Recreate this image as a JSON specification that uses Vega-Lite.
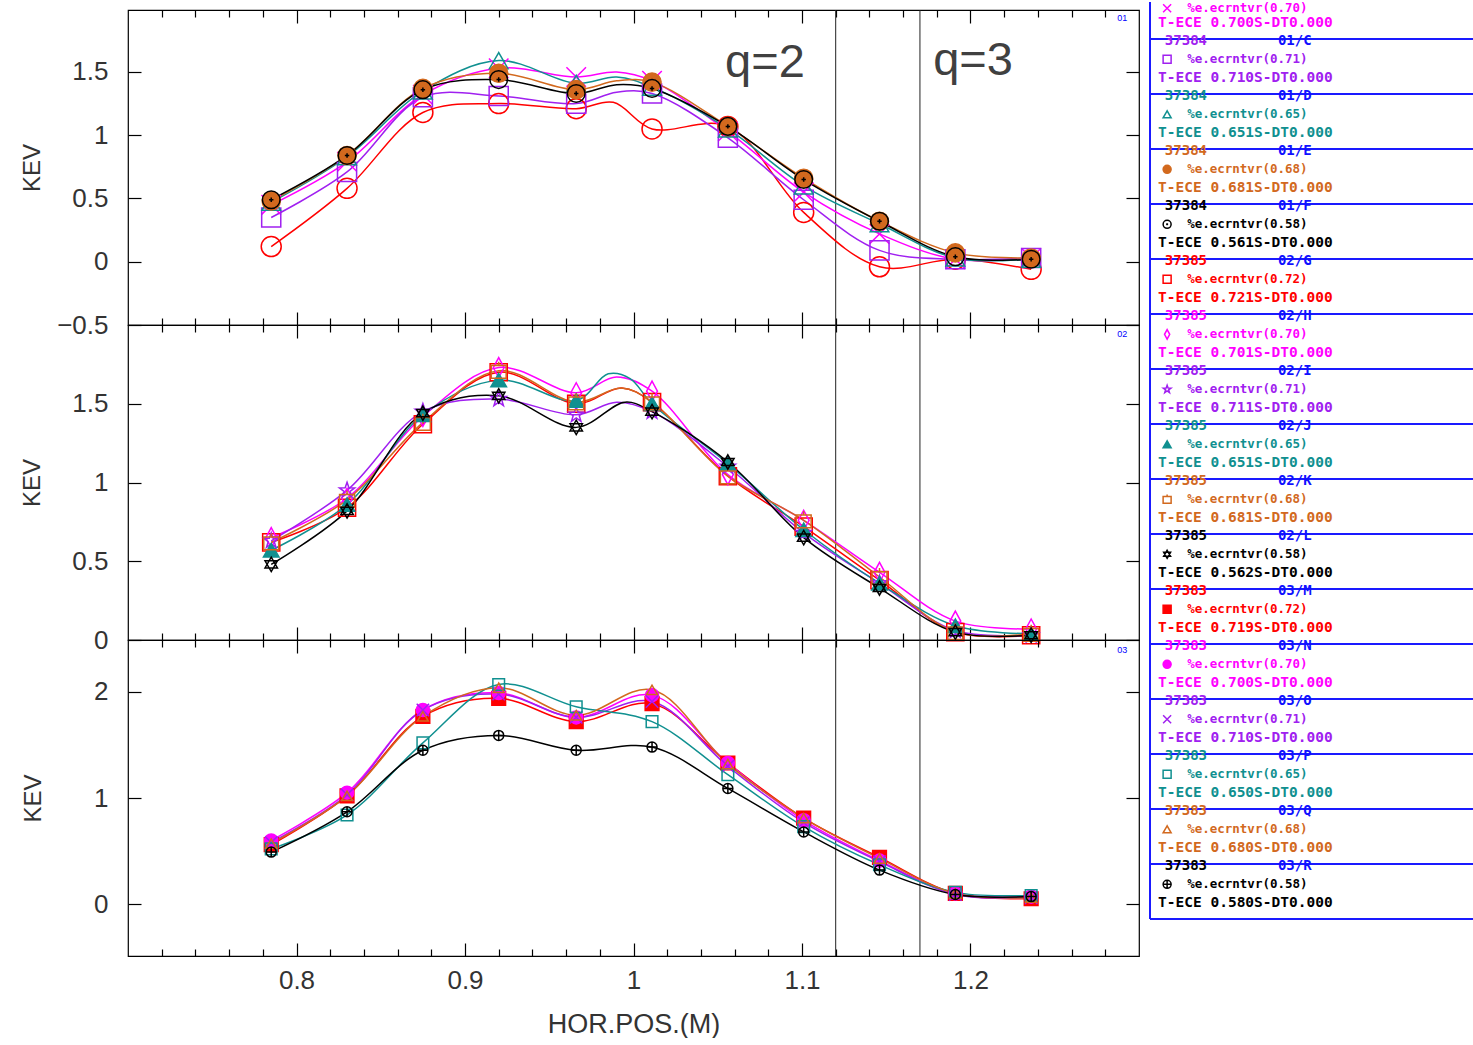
{
"$schema": "https://vega.github.io/schema/vega-lite/v6.json",
"background": "white",
"padding": {"left": 20, "top": 0, "right": 0, "bottom": 0},
"bounds": "flush",
"spacing": 0,
"config": {
  "font": "Liberation Sans",
  "view": {"stroke": "#000000", "strokeWidth": 1.2},
  "legend": {"disable": true},
  "axis": {"domain": false, "grid": false, "tickColor": "#000000", "tickWidth": 1.2, "labelFontSize": 26, "labelColor": "#333333", "titleFontSize": 24, "titleFontWeight": "normal", "titleColor": "#333333", "labelFlush": false, "labelOverlap": false, "format": "~g"}
},
"datasets": {
"pts": [
{"p":1,"s":"01/A","x":0.785,"y":0.12},{"p":1,"s":"01/A","x":0.83,"y":0.58},{"p":1,"s":"01/A","x":0.875,"y":1.18},{"p":1,"s":"01/A","x":0.92,"y":1.25},{"p":1,"s":"01/A","x":0.966,"y":1.21},{"p":1,"s":"01/A","x":0.988,"y":1.26,"l":1},{"p":1,"s":"01/A","x":1.011,"y":1.05},{"p":1,"s":"01/A","x":1.056,"y":1.07},{"p":1,"s":"01/A","x":1.101,"y":0.39},{"p":1,"s":"01/A","x":1.146,"y":-0.04},{"p":1,"s":"01/A","x":1.191,"y":0.02},{"p":1,"s":"01/A","x":1.236,"y":-0.06},
{"p":1,"s":"01/B","x":0.785,"y":0.45},{"p":1,"s":"01/B","x":0.83,"y":0.79},{"p":1,"s":"01/B","x":0.875,"y":1.32},{"p":1,"s":"01/B","x":0.92,"y":1.53},{"p":1,"s":"01/B","x":0.966,"y":1.46},{"p":1,"s":"01/B","x":0.99,"y":1.50,"l":1},{"p":1,"s":"01/B","x":1.011,"y":1.43},{"p":1,"s":"01/B","x":1.056,"y":1.03},{"p":1,"s":"01/B","x":1.101,"y":0.55},{"p":1,"s":"01/B","x":1.146,"y":0.22},{"p":1,"s":"01/B","x":1.191,"y":0.02},{"p":1,"s":"01/B","x":1.236,"y":0.03},
{"p":1,"s":"01/C","x":0.785,"y":0.35},{"p":1,"s":"01/C","x":0.83,"y":0.71},{"p":1,"s":"01/C","x":0.875,"y":1.30},{"p":1,"s":"01/C","x":0.92,"y":1.31},{"p":1,"s":"01/C","x":0.966,"y":1.25},{"p":1,"s":"01/C","x":0.99,"y":1.34,"l":1},{"p":1,"s":"01/C","x":1.011,"y":1.33},{"p":1,"s":"01/C","x":1.056,"y":0.98},{"p":1,"s":"01/C","x":1.101,"y":0.49},{"p":1,"s":"01/C","x":1.146,"y":0.09},{"p":1,"s":"01/C","x":1.191,"y":0.02},{"p":1,"s":"01/C","x":1.236,"y":0.03},
{"p":1,"s":"01/D","x":0.785,"y":0.47},{"p":1,"s":"01/D","x":0.83,"y":0.83},{"p":1,"s":"01/D","x":0.875,"y":1.35},{"p":1,"s":"01/D","x":0.92,"y":1.59},{"p":1,"s":"01/D","x":0.966,"y":1.41},{"p":1,"s":"01/D","x":0.99,"y":1.46,"l":1},{"p":1,"s":"01/D","x":1.011,"y":1.38},{"p":1,"s":"01/D","x":1.056,"y":1.05},{"p":1,"s":"01/D","x":1.101,"y":0.60},{"p":1,"s":"01/D","x":1.146,"y":0.30},{"p":1,"s":"01/D","x":1.191,"y":0.03},{"p":1,"s":"01/D","x":1.236,"y":0.02},
{"p":1,"s":"01/E","x":0.785,"y":0.48},{"p":1,"s":"01/E","x":0.83,"y":0.84},{"p":1,"s":"01/E","x":0.875,"y":1.37},{"p":1,"s":"01/E","x":0.92,"y":1.49},{"p":1,"s":"01/E","x":0.966,"y":1.36},{"p":1,"s":"01/E","x":0.99,"y":1.43,"l":1},{"p":1,"s":"01/E","x":1.011,"y":1.42},{"p":1,"s":"01/E","x":1.056,"y":1.07},{"p":1,"s":"01/E","x":1.101,"y":0.66},{"p":1,"s":"01/E","x":1.146,"y":0.32},{"p":1,"s":"01/E","x":1.191,"y":0.07},{"p":1,"s":"01/E","x":1.236,"y":0.03},
{"p":1,"s":"01/F","x":0.785,"y":0.49},{"p":1,"s":"01/F","x":0.83,"y":0.84},{"p":1,"s":"01/F","x":0.875,"y":1.36},{"p":1,"s":"01/F","x":0.92,"y":1.44},{"p":1,"s":"01/F","x":0.966,"y":1.33},{"p":1,"s":"01/F","x":0.99,"y":1.40,"l":1},{"p":1,"s":"01/F","x":1.011,"y":1.37},{"p":1,"s":"01/F","x":1.056,"y":1.07},{"p":1,"s":"01/F","x":1.101,"y":0.65},{"p":1,"s":"01/F","x":1.146,"y":0.32},{"p":1,"s":"01/F","x":1.191,"y":0.04},{"p":1,"s":"01/F","x":1.236,"y":0.02},
{"p":2,"s":"02/G","x":0.785,"y":0.62},{"p":2,"s":"02/G","x":0.83,"y":0.84},{"p":2,"s":"02/G","x":0.875,"y":1.37},{"p":2,"s":"02/G","x":0.92,"y":1.70},{"p":2,"s":"02/G","x":0.966,"y":1.50},{"p":2,"s":"02/G","x":0.993,"y":1.60,"l":1},{"p":2,"s":"02/G","x":1.011,"y":1.51},{"p":2,"s":"02/G","x":1.056,"y":1.04},{"p":2,"s":"02/G","x":1.101,"y":0.72},{"p":2,"s":"02/G","x":1.146,"y":0.38},{"p":2,"s":"02/G","x":1.191,"y":0.05},{"p":2,"s":"02/G","x":1.236,"y":0.03},
{"p":2,"s":"02/H","x":0.785,"y":0.65},{"p":2,"s":"02/H","x":0.83,"y":0.90},{"p":2,"s":"02/H","x":0.875,"y":1.42},{"p":2,"s":"02/H","x":0.92,"y":1.73},{"p":2,"s":"02/H","x":0.966,"y":1.57},{"p":2,"s":"02/H","x":0.99,"y":1.67,"l":1},{"p":2,"s":"02/H","x":1.011,"y":1.58},{"p":2,"s":"02/H","x":1.056,"y":1.05},{"p":2,"s":"02/H","x":1.101,"y":0.76},{"p":2,"s":"02/H","x":1.146,"y":0.43},{"p":2,"s":"02/H","x":1.191,"y":0.12},{"p":2,"s":"02/H","x":1.236,"y":0.07},
{"p":2,"s":"02/I","x":0.785,"y":0.63},{"p":2,"s":"02/I","x":0.83,"y":0.95},{"p":2,"s":"02/I","x":0.875,"y":1.45},{"p":2,"s":"02/I","x":0.92,"y":1.53},{"p":2,"s":"02/I","x":0.966,"y":1.43},{"p":2,"s":"02/I","x":0.99,"y":1.51,"l":1},{"p":2,"s":"02/I","x":1.011,"y":1.45},{"p":2,"s":"02/I","x":1.056,"y":1.10},{"p":2,"s":"02/I","x":1.101,"y":0.68},{"p":2,"s":"02/I","x":1.146,"y":0.36},{"p":2,"s":"02/I","x":1.191,"y":0.06},{"p":2,"s":"02/I","x":1.236,"y":0.03},
{"p":2,"s":"02/J","x":0.785,"y":0.57},{"p":2,"s":"02/J","x":0.83,"y":0.86},{"p":2,"s":"02/J","x":0.875,"y":1.43},{"p":2,"s":"02/J","x":0.92,"y":1.65},{"p":2,"s":"02/J","x":0.966,"y":1.52},{"p":2,"s":"02/J","x":0.985,"y":1.69,"l":1},{"p":2,"s":"02/J","x":0.998,"y":1.66,"l":1},{"p":2,"s":"02/J","x":1.011,"y":1.50},{"p":2,"s":"02/J","x":1.056,"y":1.12},{"p":2,"s":"02/J","x":1.101,"y":0.70},{"p":2,"s":"02/J","x":1.146,"y":0.36},{"p":2,"s":"02/J","x":1.191,"y":0.09},{"p":2,"s":"02/J","x":1.236,"y":0.04},
{"p":2,"s":"02/K","x":0.785,"y":0.62},{"p":2,"s":"02/K","x":0.83,"y":0.89},{"p":2,"s":"02/K","x":0.875,"y":1.38},{"p":2,"s":"02/K","x":0.92,"y":1.71},{"p":2,"s":"02/K","x":0.966,"y":1.51},{"p":2,"s":"02/K","x":0.993,"y":1.60,"l":1},{"p":2,"s":"02/K","x":1.011,"y":1.51},{"p":2,"s":"02/K","x":1.056,"y":1.04},{"p":2,"s":"02/K","x":1.101,"y":0.76},{"p":2,"s":"02/K","x":1.146,"y":0.40},{"p":2,"s":"02/K","x":1.191,"y":0.05},{"p":2,"s":"02/K","x":1.236,"y":0.04},
{"p":2,"s":"02/L","x":0.785,"y":0.48},{"p":2,"s":"02/L","x":0.83,"y":0.82},{"p":2,"s":"02/L","x":0.875,"y":1.44},{"p":2,"s":"02/L","x":0.92,"y":1.55},{"p":2,"s":"02/L","x":0.966,"y":1.35},{"p":2,"s":"02/L","x":0.995,"y":1.51,"l":1},{"p":2,"s":"02/L","x":1.011,"y":1.45},{"p":2,"s":"02/L","x":1.056,"y":1.13},{"p":2,"s":"02/L","x":1.101,"y":0.65},{"p":2,"s":"02/L","x":1.146,"y":0.33},{"p":2,"s":"02/L","x":1.191,"y":0.05},{"p":2,"s":"02/L","x":1.236,"y":0.03},
{"p":3,"s":"03/M","x":0.785,"y":0.56},{"p":3,"s":"03/M","x":0.83,"y":1.02},{"p":3,"s":"03/M","x":0.875,"y":1.77},{"p":3,"s":"03/M","x":0.92,"y":1.94},{"p":3,"s":"03/M","x":0.966,"y":1.72},{"p":3,"s":"03/M","x":1.011,"y":1.89},{"p":3,"s":"03/M","x":1.056,"y":1.33},{"p":3,"s":"03/M","x":1.101,"y":0.81},{"p":3,"s":"03/M","x":1.146,"y":0.44},{"p":3,"s":"03/M","x":1.191,"y":0.10},{"p":3,"s":"03/M","x":1.236,"y":0.05},
{"p":3,"s":"03/N","x":0.785,"y":0.60},{"p":3,"s":"03/N","x":0.83,"y":1.05},{"p":3,"s":"03/N","x":0.875,"y":1.83},{"p":3,"s":"03/N","x":0.92,"y":1.99},{"p":3,"s":"03/N","x":0.966,"y":1.76},{"p":3,"s":"03/N","x":1.011,"y":1.97},{"p":3,"s":"03/N","x":1.056,"y":1.33},{"p":3,"s":"03/N","x":1.101,"y":0.79},{"p":3,"s":"03/N","x":1.146,"y":0.41},{"p":3,"s":"03/N","x":1.191,"y":0.10},{"p":3,"s":"03/N","x":1.236,"y":0.07},
{"p":3,"s":"03/O","x":0.785,"y":0.58},{"p":3,"s":"03/O","x":0.83,"y":1.03},{"p":3,"s":"03/O","x":0.875,"y":1.83},{"p":3,"s":"03/O","x":0.92,"y":1.98},{"p":3,"s":"03/O","x":0.966,"y":1.76},{"p":3,"s":"03/O","x":1.011,"y":1.91},{"p":3,"s":"03/O","x":1.056,"y":1.30},{"p":3,"s":"03/O","x":1.101,"y":0.77},{"p":3,"s":"03/O","x":1.146,"y":0.40},{"p":3,"s":"03/O","x":1.191,"y":0.09},{"p":3,"s":"03/O","x":1.236,"y":0.06},
{"p":3,"s":"03/P","x":0.785,"y":0.52},{"p":3,"s":"03/P","x":0.83,"y":0.84},{"p":3,"s":"03/P","x":0.875,"y":1.52},{"p":3,"s":"03/P","x":0.92,"y":2.07},{"p":3,"s":"03/P","x":0.966,"y":1.86},{"p":3,"s":"03/P","x":1.011,"y":1.72},{"p":3,"s":"03/P","x":1.056,"y":1.22},{"p":3,"s":"03/P","x":1.101,"y":0.73},{"p":3,"s":"03/P","x":1.146,"y":0.37},{"p":3,"s":"03/P","x":1.191,"y":0.11},{"p":3,"s":"03/P","x":1.236,"y":0.08},
{"p":3,"s":"03/Q","x":0.785,"y":0.57},{"p":3,"s":"03/Q","x":0.83,"y":1.02},{"p":3,"s":"03/Q","x":0.875,"y":1.77},{"p":3,"s":"03/Q","x":0.92,"y":2.04},{"p":3,"s":"03/Q","x":0.966,"y":1.78},{"p":3,"s":"03/Q","x":1.011,"y":2.02},{"p":3,"s":"03/Q","x":1.056,"y":1.32},{"p":3,"s":"03/Q","x":1.101,"y":0.81},{"p":3,"s":"03/Q","x":1.146,"y":0.43},{"p":3,"s":"03/Q","x":1.191,"y":0.10},{"p":3,"s":"03/Q","x":1.236,"y":0.06},
{"p":3,"s":"03/R","x":0.785,"y":0.49},{"p":3,"s":"03/R","x":0.83,"y":0.87},{"p":3,"s":"03/R","x":0.875,"y":1.45},{"p":3,"s":"03/R","x":0.92,"y":1.59},{"p":3,"s":"03/R","x":0.966,"y":1.45},{"p":3,"s":"03/R","x":1.011,"y":1.48},{"p":3,"s":"03/R","x":1.056,"y":1.09},{"p":3,"s":"03/R","x":1.101,"y":0.68},{"p":3,"s":"03/R","x":1.146,"y":0.32},{"p":3,"s":"03/R","x":1.191,"y":0.09},{"p":3,"s":"03/R","x":1.236,"y":0.07}
],
"leg": [
{"s":"01/B","k":1,"r0":3,"r1":4.21,"r2":5,"shot":"37384","tag":"01/B","m":"%e.ecrntvr(0.70)","t":"T-ECE 0.700S-DT0.000"},
{"s":"01/C","k":2,"r0":6,"r1":7,"r2":8,"shot":"37384","tag":"01/C","m":"%e.ecrntvr(0.71)","t":"T-ECE 0.710S-DT0.000"},
{"s":"01/D","k":3,"r0":9,"r1":10,"r2":11,"shot":"37384","tag":"01/D","m":"%e.ecrntvr(0.65)","t":"T-ECE 0.651S-DT0.000"},
{"s":"01/E","k":4,"r0":12,"r1":13,"r2":14,"shot":"37384","tag":"01/E","m":"%e.ecrntvr(0.68)","t":"T-ECE 0.681S-DT0.000"},
{"s":"01/F","k":5,"r0":15,"r1":16,"r2":17,"shot":"37384","tag":"01/F","m":"%e.ecrntvr(0.58)","t":"T-ECE 0.561S-DT0.000"},
{"s":"02/G","k":6,"r0":18,"r1":19,"r2":20,"shot":"37385","tag":"02/G","m":"%e.ecrntvr(0.72)","t":"T-ECE 0.721S-DT0.000"},
{"s":"02/H","k":7,"r0":21,"r1":22,"r2":23,"shot":"37385","tag":"02/H","m":"%e.ecrntvr(0.70)","t":"T-ECE 0.701S-DT0.000"},
{"s":"02/I","k":8,"r0":24,"r1":25,"r2":26,"shot":"37385","tag":"02/I","m":"%e.ecrntvr(0.71)","t":"T-ECE 0.711S-DT0.000"},
{"s":"02/J","k":9,"r0":27,"r1":28,"r2":29,"shot":"37385","tag":"02/J","m":"%e.ecrntvr(0.65)","t":"T-ECE 0.651S-DT0.000"},
{"s":"02/K","k":10,"r0":30,"r1":31,"r2":32,"shot":"37385","tag":"02/K","m":"%e.ecrntvr(0.68)","t":"T-ECE 0.681S-DT0.000"},
{"s":"02/L","k":11,"r0":33,"r1":34,"r2":35,"shot":"37385","tag":"02/L","m":"%e.ecrntvr(0.58)","t":"T-ECE 0.562S-DT0.000"},
{"s":"03/M","k":12,"r0":36,"r1":37,"r2":38,"shot":"37383","tag":"03/M","m":"%e.ecrntvr(0.72)","t":"T-ECE 0.719S-DT0.000"},
{"s":"03/N","k":13,"r0":39,"r1":40,"r2":41,"shot":"37383","tag":"03/N","m":"%e.ecrntvr(0.70)","t":"T-ECE 0.700S-DT0.000"},
{"s":"03/O","k":14,"r0":42,"r1":43,"r2":44,"shot":"37383","tag":"03/O","m":"%e.ecrntvr(0.71)","t":"T-ECE 0.710S-DT0.000"},
{"s":"03/P","k":15,"r0":45,"r1":46,"r2":47,"shot":"37383","tag":"03/P","m":"%e.ecrntvr(0.65)","t":"T-ECE 0.650S-DT0.000"},
{"s":"03/Q","k":16,"r0":48,"r1":49,"r2":50,"shot":"37383","tag":"03/Q","m":"%e.ecrntvr(0.68)","t":"T-ECE 0.680S-DT0.000"},
{"s":"03/R","k":17,"r0":51,"r1":52,"r2":53,"shot":"37383","tag":"03/R","m":"%e.ecrntvr(0.58)","t":"T-ECE 0.580S-DT0.000"}
],
"hl": [{"r":5.89},{"r":8.89},{"r":11.89},{"r":14.89},{"r":17.89},{"r":20.89},{"r":23.89},{"r":26.89},{"r":29.89},{"r":32.89},{"r":35.89},{"r":38.89},{"r":41.89},{"r":44.89},{"r":47.89},{"r":50.89},{"r":53.89}]
},
"vconcat": [
{
"width": 1011, "height": 315,
"resolve": {"scale": {"x": "independent", "y": "independent"}, "axis": {"x": "independent", "y": "independent"}},
"layer": [
 {"data": {"values": [{"q": 1.12}, {"q": 1.17}]}, "mark": {"type": "rule", "color": "#222222", "strokeWidth": 1},
  "encoding": {"x": {"field": "q", "type": "quantitative", "scale": {"domain": [0.7, 1.3], "nice": false, "zero": false}, "axis": {"orient": "bottom", "values": [0.72,0.74,0.76,0.78,0.82,0.84,0.86,0.88,0.92,0.94,0.96,0.98,1.02,1.04,1.06,1.08,1.12,1.14,1.16,1.18,1.22,1.24,1.26,1.28], "tickSize": -7, "labels": false, "title": null}}}},
 {"data": {"name": "pts"}, "transform": [{"filter": "datum.p == 1"}], "mark": {"type": "line", "interpolate": "catmull-rom", "strokeWidth": 1.5},
  "encoding": {
   "x": {"field": "x", "type": "quantitative", "scale": {"domain": [0.7, 1.3], "nice": false, "zero": false}, "axis": {"orient": "bottom", "values": [0.8, 0.9, 1, 1.1, 1.2], "tickSize": -13, "labels": false, "title": null}},
   "y": {"field": "y", "type": "quantitative", "scale": {"domain": [-0.5, 1.99], "nice": false, "zero": false}, "axis": {"orient": "left", "values": [-0.5, 0, 0.5, 1, 1.5], "tickSize": -13, "labelPadding": 33, "title": "KEV", "titlePadding": 12}},
   "stroke": {"field": "s", "type": "nominal", "scale": {"domain": ["01/A","01/B","01/C","01/D","01/E","01/F","02/G","02/H","02/I","02/J","02/K","02/L","03/M","03/N","03/O","03/P","03/Q","03/R"], "range": ["#ff0000","#ff00ff","#a020f0","#109090","#d2691e","#000000","#ff0000","#ff00ff","#a020f0","#109090","#d2691e","#000000","#ff0000","#ff00ff","#a020f0","#109090","#d2691e","#000000"]}}
  }},
 {"data": {"name": "pts"}, "transform": [{"filter": "datum.p == 1 && !datum.l"}], "mark": {"type": "point", "filled": true, "opacity": 1, "strokeWidth": 1.5},
  "encoding": {
   "x": {"field": "x", "type": "quantitative", "scale": {"domain": [0.7, 1.3], "nice": false, "zero": false}, "axis": {"orient": "top", "values": [0.8, 0.9, 1, 1.1, 1.2], "tickSize": -13, "labels": false, "title": null}},
   "y": {"field": "y", "type": "quantitative", "scale": {"domain": [-0.5, 1.99], "nice": false, "zero": false}, "axis": {"orient": "right", "values": [-0.5, 0, 0.5, 1, 1.5], "tickSize": -13, "labels": false, "title": null}},
   "shape": {"field": "s", "type": "nominal", "scale": {"domain": ["01/A","01/B","01/C","01/D","01/E","01/F","02/G","02/H","02/I","02/J","02/K","02/L","03/M","03/N","03/O","03/P","03/Q","03/R"], "range": ["circle","M-1,-1L1,1M-1,1L1,-1","square","triangle-up","M-1,0A1,1,0,1,0,1,0A1,1,0,1,0,-1,0ZM-1,0L1,0M0,-1L0,1","M-1,0A1,1,0,1,0,1,0A1,1,0,1,0,-1,0ZM-0.25,0L0.25,0M0,-0.25L0,0.25","square","M0,-1.2L0.65,0L0,1.2L-0.65,0Z","M0,-1L0.235,-0.324L0.951,-0.309L0.38,0.124L0.588,0.809L0,0.4L-0.588,0.809L-0.38,0.124L-0.951,-0.309L-0.235,-0.324Z","triangle-up","M-1,-0.7L1,-0.7L1,1L-1,1ZM0,-0.7L0,-1.2","M0,-1L0.866,0.5L-0.866,0.5ZM0,1L0.866,-0.5L-0.866,-0.5Z","square","circle","M-1,-1L1,1M-1,1L1,-1","square","triangle-up","M-1,0A1,1,0,1,0,1,0A1,1,0,1,0,-1,0ZM-1,0L1,0M0,-1L0,1"]}},
   "fill": {"field": "s", "type": "nominal", "scale": {"domain": ["01/A","01/B","01/C","01/D","01/E","01/F","02/G","02/H","02/I","02/J","02/K","02/L","03/M","03/N","03/O","03/P","03/Q","03/R"], "range": ["transparent","transparent","transparent","transparent","#d2691e","transparent","transparent","transparent","transparent","#109090","transparent","transparent","#ff0000","#ff00ff","transparent","transparent","transparent","transparent"]}},
   "stroke": {"field": "s", "type": "nominal", "scale": {"domain": ["01/A","01/B","01/C","01/D","01/E","01/F","02/G","02/H","02/I","02/J","02/K","02/L","03/M","03/N","03/O","03/P","03/Q","03/R"], "range": ["#ff0000","#ff00ff","#a020f0","#109090","#d2691e","#000000","#ff0000","#ff00ff","#a020f0","#109090","#d2691e","#000000","#ff0000","#ff00ff","#a020f0","#109090","#d2691e","#000000"]}},
   "size": {"field": "s", "type": "nominal", "scale": {"domain": ["01/A","01/B","01/C","01/D","01/E","01/F","02/G","02/H","02/I","02/J","02/K","02/L","03/M","03/N","03/O","03/P","03/Q","03/R"], "range": [400,100,361,144,324,484,324,256,484,144,324,576,144,144,144,576,144,400]}}
  }},
 {"data": {"values": [{"x": 1.29, "y": 1.926, "t": "01"}]}, "mark": {"type": "text", "color": "#0000ff", "fontSize": 9},
  "encoding": {
   "x": {"field": "x", "type": "quantitative", "scale": {"domain": [0.7, 1.3], "nice": false, "zero": false}, "axis": {"orient": "top", "values": [0.72,0.74,0.76,0.78,0.82,0.84,0.86,0.88,0.92,0.94,0.96,0.98,1.02,1.04,1.06,1.08,1.12,1.14,1.16,1.18,1.22,1.24,1.26,1.28], "tickSize": -7, "labels": false, "title": null}},
   "y": {"field": "y", "type": "quantitative", "scale": {"domain": [-0.5, 1.99], "nice": false, "zero": false}, "axis": null},
   "text": {"field": "t"}}},
 {"data": {"values": [{"x": 1.078, "y": 1.57, "t": "q=2"}, {"x": 1.2015, "y": 1.59, "t": "q=3"}]}, "mark": {"type": "text", "color": "#404040", "fontSize": 47, "font": "Liberation Sans"},
  "encoding": {
   "x": {"field": "x", "type": "quantitative", "scale": {"domain": [0.7, 1.3], "nice": false, "zero": false}, "axis": null},
   "y": {"field": "y", "type": "quantitative", "scale": {"domain": [-0.5, 1.99], "nice": false, "zero": false}, "axis": null},
   "text": {"field": "t"}}},
 {"data": {"values": [{"a": 0, "y1": 3.87, "y2": 53.89}]}, "mark": {"type": "rule", "color": "#1a1aff", "strokeWidth": 2},
  "encoding": {
   "x": {"field": "a", "type": "quantitative", "scale": {"domain": [0, 1], "range": [1022, 1345], "nice": false, "zero": false}, "axis": null},
   "y": {"field": "y1", "type": "quantitative", "scale": {"domain": [4.309, 21.491], "range": [0, 315], "nice": false, "zero": false}, "axis": null},
   "y2": {"field": "y2"}}},
 {"data": {"name": "hl"}, "mark": {"type": "rule", "color": "#1a1aff", "strokeWidth": 2},
  "encoding": {
   "x": {"datum": 0, "type": "quantitative", "scale": {"domain": [0, 1], "range": [1022, 1345], "nice": false, "zero": false}, "axis": null},
   "x2": {"datum": 1},
   "y": {"field": "r", "type": "quantitative", "scale": {"domain": [4.309, 21.491], "range": [0, 315], "nice": false, "zero": false}, "axis": null}}},
 {"data": {"name": "leg"}, "transform": [{"filter": "datum.k >= 2"}], "mark": {"type": "text", "align": "left", "baseline": "middle", "font": "DejaVu Sans Mono", "fontSize": 14, "fontWeight": "bold"},
  "encoding": {
   "x": {"datum": 0.046, "type": "quantitative", "scale": {"domain": [0, 1], "range": [1022, 1345], "nice": false, "zero": false}, "axis": null},
   "y": {"field": "r0", "type": "quantitative", "scale": {"domain": [4.309, 21.491], "range": [0, 315], "nice": false, "zero": false}, "axis": null},
   "color": {"field": "s", "type": "nominal", "scale": {"domain": ["01/A","01/B","01/C","01/D","01/E","01/F","02/G","02/H","02/I","02/J","02/K","02/L","03/M","03/N","03/O","03/P","03/Q","03/R"], "range": ["#ff0000","#ff00ff","#a020f0","#109090","#d2691e","#000000","#ff0000","#ff00ff","#a020f0","#109090","#d2691e","#000000","#ff0000","#ff00ff","#a020f0","#109090","#d2691e","#000000"]}},
   "text": {"field": "shot"}}},
 {"data": {"name": "leg"}, "transform": [{"filter": "datum.k >= 2"}], "mark": {"type": "text", "align": "left", "baseline": "middle", "font": "DejaVu Sans Mono", "fontSize": 14, "fontWeight": "bold", "color": "#1010ff"},
  "encoding": {
   "x": {"datum": 0.396, "type": "quantitative", "scale": {"domain": [0, 1], "range": [1022, 1345], "nice": false, "zero": false}, "axis": null},
   "y": {"field": "r0", "type": "quantitative", "scale": {"domain": [4.309, 21.491], "range": [0, 315], "nice": false, "zero": false}, "axis": null},
   "text": {"field": "tag"}}},
 {"data": {"name": "leg"}, "mark": {"type": "point", "filled": true, "opacity": 1, "strokeWidth": 1.5, "size": 64},
  "encoding": {
   "x": {"datum": 0.053, "type": "quantitative", "scale": {"domain": [0, 1], "range": [1022, 1345], "nice": false, "zero": false}, "axis": null},
   "y": {"field": "r1", "type": "quantitative", "scale": {"domain": [4.309, 21.491], "range": [0, 315], "nice": false, "zero": false}, "axis": null},
   "shape": {"field": "s", "type": "nominal"},
   "fill": {"field": "s", "type": "nominal"},
   "stroke": {"field": "s", "type": "nominal"}}},
 {"data": {"name": "leg"}, "mark": {"type": "text", "align": "left", "baseline": "middle", "font": "DejaVu Sans Mono", "fontSize": 12.5, "fontWeight": "bold"},
  "encoding": {
   "x": {"datum": 0.115, "type": "quantitative", "scale": {"domain": [0, 1], "range": [1022, 1345], "nice": false, "zero": false}, "axis": null},
   "y": {"field": "r1", "type": "quantitative", "scale": {"domain": [4.309, 21.491], "range": [0, 315], "nice": false, "zero": false}, "axis": null},
   "color": {"field": "s", "type": "nominal"},
   "text": {"field": "m"}}},
 {"data": {"name": "leg"}, "mark": {"type": "text", "align": "left", "baseline": "middle", "font": "DejaVu Sans Mono", "fontSize": 14.5, "fontWeight": "bold"},
  "encoding": {
   "x": {"datum": 0.025, "type": "quantitative", "scale": {"domain": [0, 1], "range": [1022, 1345], "nice": false, "zero": false}, "axis": null},
   "y": {"field": "r2", "type": "quantitative", "scale": {"domain": [4.309, 21.491], "range": [0, 315], "nice": false, "zero": false}, "axis": null},
   "color": {"field": "s", "type": "nominal"},
   "text": {"field": "t"}}}
]
},
{
"width": 1011, "height": 315,
"resolve": {"scale": {"x": "independent", "y": "independent"}, "axis": {"x": "independent", "y": "independent"}},
"layer": [
 {"data": {"values": [{"q": 1.12}, {"q": 1.17}]}, "mark": {"type": "rule", "color": "#222222", "strokeWidth": 1},
  "encoding": {"x": {"field": "q", "type": "quantitative", "scale": {"domain": [0.7, 1.3], "nice": false, "zero": false}, "axis": {"orient": "bottom", "values": [0.72,0.74,0.76,0.78,0.82,0.84,0.86,0.88,0.92,0.94,0.96,0.98,1.02,1.04,1.06,1.08,1.12,1.14,1.16,1.18,1.22,1.24,1.26,1.28], "tickSize": -7, "labels": false, "title": null}}}},
 {"data": {"name": "pts"}, "transform": [{"filter": "datum.p == 2"}], "mark": {"type": "line", "interpolate": "catmull-rom", "strokeWidth": 1.5},
  "encoding": {
   "x": {"field": "x", "type": "quantitative", "scale": {"domain": [0.7, 1.3], "nice": false, "zero": false}, "axis": {"orient": "bottom", "values": [0.8, 0.9, 1, 1.1, 1.2], "tickSize": -13, "labels": false, "title": null}},
   "y": {"field": "y", "type": "quantitative", "scale": {"domain": [0, 2], "nice": false, "zero": false}, "axis": {"orient": "left", "values": [0, 0.5, 1, 1.5], "tickSize": -13, "labelPadding": 33, "title": "KEV", "titlePadding": 27}},
   "stroke": {"field": "s", "type": "nominal"}
  }},
 {"data": {"name": "pts"}, "transform": [{"filter": "datum.p == 2 && !datum.l"}], "mark": {"type": "point", "filled": true, "opacity": 1, "strokeWidth": 1.5},
  "encoding": {
   "x": {"field": "x", "type": "quantitative", "scale": {"domain": [0.7, 1.3], "nice": false, "zero": false}, "axis": {"orient": "top", "values": [0.8, 0.9, 1, 1.1, 1.2], "tickSize": -13, "labels": false, "title": null}},
   "y": {"field": "y", "type": "quantitative", "scale": {"domain": [0, 2], "nice": false, "zero": false}, "axis": {"orient": "right", "values": [0, 0.5, 1, 1.5], "tickSize": -13, "labels": false, "title": null}},
   "shape": {"field": "s", "type": "nominal"},
   "fill": {"field": "s", "type": "nominal"},
   "stroke": {"field": "s", "type": "nominal"},
   "size": {"field": "s", "type": "nominal"}
  }},
 {"data": {"values": [{"x": 1.29, "y": 1.945, "t": "02"}]}, "mark": {"type": "text", "color": "#0000ff", "fontSize": 9},
  "encoding": {
   "x": {"field": "x", "type": "quantitative", "scale": {"domain": [0.7, 1.3], "nice": false, "zero": false}, "axis": {"orient": "top", "values": [0.72,0.74,0.76,0.78,0.82,0.84,0.86,0.88,0.92,0.94,0.96,0.98,1.02,1.04,1.06,1.08,1.12,1.14,1.16,1.18,1.22,1.24,1.26,1.28], "tickSize": -7, "labels": false, "title": null}},
   "y": {"field": "y", "type": "quantitative", "scale": {"domain": [0, 2], "nice": false, "zero": false}, "axis": null},
   "text": {"field": "t"}}}
]
},
{
"width": 1011, "height": 316,
"resolve": {"scale": {"x": "independent", "y": "independent"}, "axis": {"x": "independent", "y": "independent"}},
"layer": [
 {"data": {"values": [{"q": 1.12}, {"q": 1.17}]}, "mark": {"type": "rule", "color": "#222222", "strokeWidth": 1},
  "encoding": {"x": {"field": "q", "type": "quantitative", "scale": {"domain": [0.7, 1.3], "nice": false, "zero": false}, "axis": {"orient": "bottom", "values": [0.72,0.74,0.76,0.78,0.82,0.84,0.86,0.88,0.92,0.94,0.96,0.98,1.02,1.04,1.06,1.08,1.12,1.14,1.16,1.18,1.22,1.24,1.26,1.28], "tickSize": -7, "labels": false, "title": null}}}},
 {"data": {"name": "pts"}, "transform": [{"filter": "datum.p == 3"}], "mark": {"type": "line", "interpolate": "catmull-rom", "strokeWidth": 1.5},
  "encoding": {
   "x": {"field": "x", "type": "quantitative", "scale": {"domain": [0.7, 1.3], "nice": false, "zero": false}, "axis": {"orient": "bottom", "values": [0.8, 0.9, 1, 1.1, 1.2], "tickSize": -13, "labelPadding": 24, "title": "HOR.POS.(M)", "titlePadding": 18, "titleFontSize": 27}},
   "y": {"field": "y", "type": "quantitative", "scale": {"domain": [-0.49, 2.49], "nice": false, "zero": false}, "axis": {"orient": "left", "values": [0, 1, 2], "tickSize": -13, "labelPadding": 33, "title": "KEV", "titlePadding": 48}},
   "stroke": {"field": "s", "type": "nominal"}
  }},
 {"data": {"name": "pts"}, "transform": [{"filter": "datum.p == 3"}], "mark": {"type": "point", "filled": true, "opacity": 1, "strokeWidth": 1.5},
  "encoding": {
   "x": {"field": "x", "type": "quantitative", "scale": {"domain": [0.7, 1.3], "nice": false, "zero": false}, "axis": {"orient": "top", "values": [0.8, 0.9, 1, 1.1, 1.2], "tickSize": -13, "labels": false, "title": null}},
   "y": {"field": "y", "type": "quantitative", "scale": {"domain": [-0.49, 2.49], "nice": false, "zero": false}, "axis": {"orient": "right", "values": [0, 1, 2], "tickSize": -13, "labels": false, "title": null}},
   "shape": {"field": "s", "type": "nominal"},
   "fill": {"field": "s", "type": "nominal"},
   "stroke": {"field": "s", "type": "nominal"},
   "size": {"field": "s", "type": "nominal"}
  }},
 {"data": {"values": [{"x": 1.29, "y": 2.396, "t": "03"}]}, "mark": {"type": "text", "color": "#0000ff", "fontSize": 9},
  "encoding": {
   "x": {"field": "x", "type": "quantitative", "scale": {"domain": [0.7, 1.3], "nice": false, "zero": false}, "axis": {"orient": "top", "values": [0.72,0.74,0.76,0.78,0.82,0.84,0.86,0.88,0.92,0.94,0.96,0.98,1.02,1.04,1.06,1.08,1.12,1.14,1.16,1.18,1.22,1.24,1.26,1.28], "tickSize": -7, "labels": false, "title": null}},
   "y": {"field": "y", "type": "quantitative", "scale": {"domain": [-0.49, 2.49], "nice": false, "zero": false}, "axis": null},
   "text": {"field": "t"}}}
]
}
]
}
